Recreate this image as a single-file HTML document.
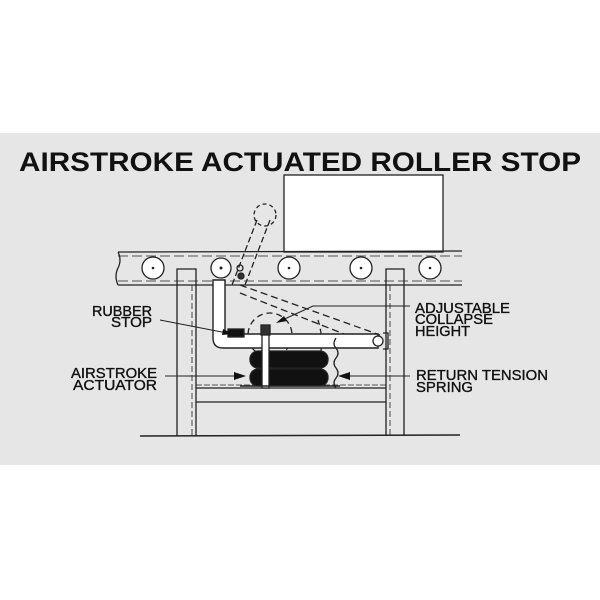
<!DOCTYPE html>
<html><head><style>body{margin:0;background:#fff}svg{display:block}</style></head><body>
<svg width="600" height="600" viewBox="0 0 600 600" xmlns="http://www.w3.org/2000/svg" font-family="Liberation Sans, sans-serif">
<rect x="0" y="133" width="600" height="332" fill="#e6e6e6"/>
<text x="300" y="171" text-anchor="middle" font-size="27" font-weight="bold" textLength="562" lengthAdjust="spacingAndGlyphs" fill="#111">AIRSTROKE ACTUATED ROLLER STOP</text>
<g stroke="#222" fill="none" stroke-width="1.3">
<rect x="284" y="175" width="159" height="77" fill="#fff"/>
<path d="M118,252 L462,251 M118,285 L462,285 M118,252 q4,8 0,16 q-4,8 0,17" />
<path d="M118,256 L462,256" stroke-dasharray="10,4" stroke-width="0.8"/>
<path d="M118,281 L462,281" stroke-dasharray="10,4" stroke-width="0.8"/>
<g fill="#fff">
<circle cx="153" cy="268" r="11"/><circle cx="221" cy="268" r="10"/><circle cx="289" cy="268" r="11"/><circle cx="361" cy="268" r="11"/><circle cx="430" cy="268" r="11"/>
</g>
<g fill="#222" stroke="none"><circle cx="153" cy="268" r="1.3"/><circle cx="221" cy="268" r="1.5"/><circle cx="289" cy="268" r="1.3"/><circle cx="361" cy="268" r="1.3"/><circle cx="430" cy="268" r="1.3"/></g>
<path d="M177,436 V269 H196 V436 M386,436 V269 H404 V436"/>
<path d="M192,285 V436 M390,285 V436" stroke-dasharray="6,3" stroke-width="0.8"/>
<path d="M140,436 L460,435" stroke-width="1.5"/>
<path d="M196,388 H386 M196,402 H386"/>
<path d="M196,385 H386" stroke-dasharray="6,2" stroke-width="0.8"/>
<circle cx="265" cy="215" r="11" stroke-dasharray="4,3"/>
<path d="M257,220 L232,285 M270,220 L245,285" stroke-dasharray="6,3"/>
<path d="M240,285 L380,335 M240,293 L372,345" stroke-dasharray="7,4"/>
<circle cx="270" cy="335" r="22" stroke-dasharray="6,4"/>
<path d="M318,320 q8,25 -2,48" stroke-dasharray="5,4"/>
<path d="M213,280 V338 Q213,348 223,348 H378 V334 H228 Q225,334 225,331 V280 Z" fill="#fff" stroke-width="1.4"/>
<circle cx="378" cy="341" r="5" fill="#fff"/>
<path d="M383,333 h5 v16 h-5"/>
<rect x="228" y="329" width="16" height="8" fill="#111"/>
<rect x="250" y="351" width="78" height="17" rx="8" fill="#111"/>
<rect x="250" y="369" width="78" height="17" rx="8" fill="#111"/>
<rect x="262" y="330" width="7" height="58" fill="#fff"/>
<rect x="261" y="325" width="9" height="10" fill="#333"/>
<path d="M336,338 q-4,6 0,10 q4,5 0,10 q-4,5 0,10 q4,5 0,10 q-4,5 0,10"/>
<path d="M240,386 H340" stroke-width="1.5"/>
<circle cx="240" cy="268" r="3"/><circle cx="241" cy="276" r="3" fill="#333"/>
<path d="M160,320 L232,334 M410,306 H313 L278,322 M165,376 H243 M410,376 H341" stroke-width="1.1"/>
</g>
<g fill="#111">
<path d="M233,334 l-10,-5 l-1,6 z"/>
<path d="M276,323 l8,-7 l3,5 z"/>
<path d="M246,376 l-12,-4 v8 z"/>
<path d="M338,376 l12,-4 v8 z"/>
</g>
<g font-size="14.5" fill="#111" stroke="#111" stroke-width="0.35">
<text x="152" y="316" text-anchor="end" textLength="60" lengthAdjust="spacingAndGlyphs">RUBBER</text>
<text x="152" y="327" text-anchor="end" textLength="41" lengthAdjust="spacingAndGlyphs">STOP</text>
<text x="157" y="378" text-anchor="end" textLength="86" lengthAdjust="spacingAndGlyphs">AIRSTROKE</text>
<text x="157" y="390" text-anchor="end" textLength="84" lengthAdjust="spacingAndGlyphs">ACTUATOR</text>
<text x="415" y="313" textLength="95" lengthAdjust="spacingAndGlyphs">ADJUSTABLE</text>
<text x="415" y="324" textLength="78" lengthAdjust="spacingAndGlyphs">COLLAPSE</text>
<text x="415" y="336" textLength="55" lengthAdjust="spacingAndGlyphs">HEIGHT</text>
<text x="416" y="380" textLength="132" lengthAdjust="spacingAndGlyphs">RETURN TENSION</text>
<text x="416" y="392" textLength="57" lengthAdjust="spacingAndGlyphs">SPRING</text>
</g>
</svg>
</body></html>
